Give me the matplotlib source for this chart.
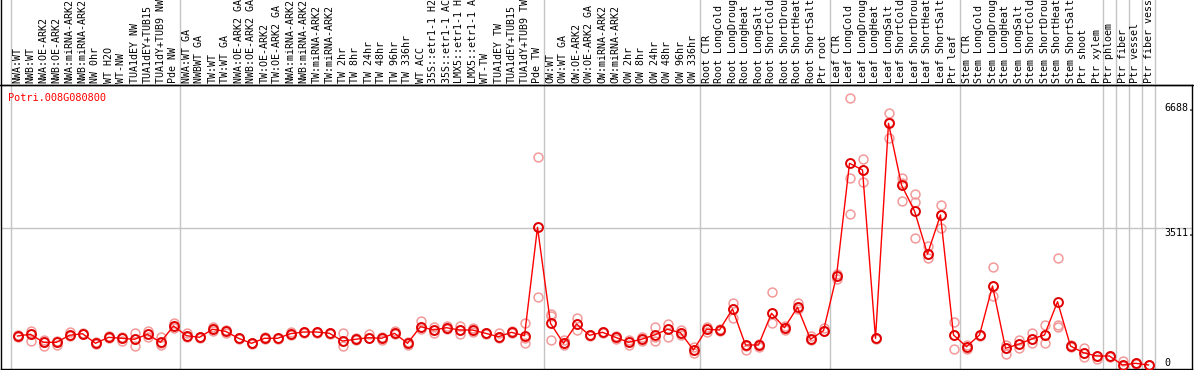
import numpy as np
import matplotlib
matplotlib.use("Agg")
import matplotlib.pyplot as plt
from matplotlib.lines import Line2D

# ---------------- data ----------------
gene = "Potri.008G080800"

labels = [
    "NWA:WT", "NWB:WT", "NWA:OE-ARK2", "NWB:OE-ARK2", "NWA:miRNA-ARK2", "NWB:miRNA-ARK2",
    "NW 0hr", "WT H2O", "WT-NW", "TUA1dEY NW", "TUA1dEY+TUB15", "TUA1dY+TUB9 NW", "Pde NW",
    "NWA:WT GA", "NWBWT GA", "TW:WT", "TW:WT GA", "NWA:OE-ARK2 GA", "NWB:OE-ARK2 GA",
    "TW:OE-ARK2", "TW:OE-ARK2 GA", "NWA:miRNA-ARK2", "NWB:miRNA-ARK2", "TW:miRNA-ARK2",
    "TW:miRNA-ARK2", "TW 2hr", "TW 8hr", "TW 24hr", "TW 48hr", "TW 96hr", "TW 336hr",
    "WT ACC", "35S::etr1-1 H2", "35S::etr1-1 AC", "LMX5::etr1-1 H", "LMX5::etr1-1 A",
    "WT-TW", "TUA1dEY TW", "TUA1dEY+TUB15", "TUA1dY+TUB9 TW", "Pde TW",
    "OW:WT", "OW:WT GA", "OW:OE-ARK2", "OW:OE-ARK2 GA", "OW:miRNA-ARK2", "OW:miRNA-ARK2",
    "OW 2hr", "OW 8hr", "OW 24hr", "OW 48hr", "OW 96hr", "OW 336hr",
    "Root CTR", "Root LongCold", "Root LongDroug", "Root LongHeat", "Root LongSalt",
    "Root ShortCold", "Root ShortDrou", "Root ShortHeat", "Root ShortSalt", "Ptr root",
    "Leaf CTR", "Leaf LongCold", "Leaf LongDroug", "Leaf LongHeat", "Leaf LongSalt",
    "Leaf ShortCold", "Leaf ShortDrou", "Leaf ShortHeat", "Leaf ShortSalt", "Ptr leaf",
    "Stem CTR", "Stem LongCold", "Stem LongDroug", "Stem LongHeat", "Stem LongSalt",
    "Stem ShortCold", "Stem ShortDrou", "Stem ShortHeat", "Stem ShortSalt", "Ptr shoot",
    "Ptr xylem", "Ptr phloem", "Ptr fiber", "Ptr vessel", "Ptr fiber vess",
]

means = [
    772, 816, 612, 612, 790, 831, 587, 739, 714, 689, 816, 612, 1027,
    780, 739, 943, 892, 714, 587, 714, 714, 831, 874, 874, 841, 645, 689, 729, 714,
    841, 587, 1009, 925, 983, 925, 925, 841, 755, 866, 780, 3535,
    1095, 587, 1077, 790, 866, 739, 612, 689, 798, 943, 856, 417,
    943, 925, 1459, 544, 544, 1349, 983, 1502, 689, 907,
    2297, 5161, 4991, 714, 6177, 4609, 3949, 2856, 3847, 798,
    501, 798, 2043, 460, 562, 696, 798, 1644, 518, 348, 264,
    264, 36, 79, 36,
]

rep1 = [
    798, 907, 671, 653, 882, 856, 628, 772, 714, 856, 907, 755, 1111,
    841, 739, 994, 925, 714, 603, 739, 714, 882, 874, 874, 841, 856, 729, 823, 755,
    907, 628, 1154, 841, 1034, 1027, 983, 841, 841, 907, 1095, 5313,
    1324, 671, 1222, 790, 882, 780, 671, 739, 1009, 1070, 925, 501,
    1009, 925, 1603, 417, 501, 1898, 1027, 1619, 772, 968,
    2213, 6812, 5262, 714, 6431, 4780, 4373, 3059, 4101, 1121,
    435, 798, 2518, 544, 671, 841, 1052, 2747, 544, 460, 180,
    264, 145, 79, 36,
]

rep2 = [
    755, 653, 518, 536, 772, 816, 562, 714, 653, 518, 755, 587, 968,
    755, 720, 907, 856, 700, 587, 689, 700, 798, 860, 860, 830, 518, 671, 714, 671,
    816, 544, 943, 925, 983, 823, 882, 830, 729, 841, 714, 1756,
    671, 544, 925, 780, 866, 689, 544, 653, 739, 755, 798, 333,
    882, 910, 1222, 544, 544, 1095, 925, 1451, 689, 907,
    2297, 4780, 4678, 700, 6218, 4211, 4170, 2747, 3509, 435,
    544, 780, 1789, 315, 460, 587, 587, 1052, 518, 231, 264,
    250, 36, 70, 30,
]

rep3 = [
    762, 816, 628, 628, 790, 831, 587, 739, 739, 689, 816, 544, 1027,
    780, 755, 943, 892, 725, 580, 714, 725, 831, 885, 885, 850, 645, 689, 729, 714,
    841, 587, 1009, 1000, 960, 925, 925, 850, 755, 866, 603, 3535,
    1290, 587, 1077, 800, 850, 739, 612, 689, 653, 943, 856, 417,
    943, 940, 1459, 530, 560, 1349, 983, 1502, 680, 900,
    2350, 3865, 4991, 730, 5796, 4650, 3255, 2856, 3847, 798,
    501, 810, 2043, 460, 562, 696, 798, 994, 500, 348, 270,
    270, 20, 90, 40,
]

ytick_vals = [0, 3511, 6688]
ytick_text = ["0", "3511.", "6688."]
group_bounds = [-0.5, 12.5, 40.5, 52.5, 62.5, 72.5, 83.5, 84.5, 85.5, 86.5, 87.5]

# ---------------- layout ----------------
W, H = 1194, 370
fig = plt.figure(figsize=(W / 100, H / 100), dpi=100)
fig.patch.set_facecolor("white")


def frame(l, t, r, b):
    return [l / W, 1 - b / H, (r - l) / W, (b - t) / H]


ax = fig.add_axes(frame(1, 85, 1192, 369))
hdr = fig.add_axes(frame(1, 0, 1192, 85))

x = np.arange(len(labels))
xlim = ((1 - 17.5) / 13, (1192 - 17.5) / 13)
ax.set_xlim(*xlim)
hdr.set_xlim(*xlim)
ax.set_ylim(-66, 7150)
hdr.set_ylim(0, 1)

mono = "DejaVu Sans Mono"
grid_c = "#C4C4C4"

for b in group_bounds:
    ax.axvline(b, color=grid_c, lw=1.0, zorder=0)
    hdr.axvline(b, color=grid_c, lw=1.0, zorder=0)
ax.axhline(3511, color=grid_c, lw=1.0, zorder=0)


def draw_marks(vals, color, ew, z):
    ax.plot(x, vals, linestyle="none", marker="o", markersize=6.4,
            markerfacecolor="none", markeredgecolor=color, markeredgewidth=ew, zorder=z)


pink = "#F29A9A"
for rep in (rep1, rep2, rep3):
    draw_marks(rep, pink, 1.1, 2)

ax.plot(x, means, color="#FF0000", lw=1.0, zorder=3)
draw_marks(means, "#E00000", 1.4, 4)

for v, t in zip(ytick_vals, ytick_text):
    yy = v if v > 0 else 94
    va = "top" if v > 0 else "center"
    ax.text((1164 - 17.5) / 13, yy, t, ha="left", va=va, fontsize=7.2,
            family=mono, color="black")

ax.text(0.006, 0.955, gene, transform=ax.transAxes, ha="left", va="center",
        fontsize=7.4, family=mono, color="#FF0000")

ax.set_xticks([])
ax.set_yticks([])
for s in ax.spines.values():
    s.set_color("black")
    s.set_linewidth(1.0)

for i, lab in enumerate(labels):
    hdr.text(i, 2 / 85, lab, rotation=90, ha="center", va="bottom",
             fontsize=7.2, family=mono, color="black", clip_on=True)
hdr.set_xticks([])
hdr.set_yticks([])
for k, s in hdr.spines.items():
    s.set_visible(k == "left")
    s.set_color("black")
    s.set_linewidth(1.0)
hdr.patch.set_alpha(0)

fig.add_artist(Line2D([0, 1], [1 - 85 / H, 1 - 85 / H], color="black", lw=1.0,
                      transform=fig.transFigure))

fig.savefig("out.png", dpi=100, facecolor="white")
